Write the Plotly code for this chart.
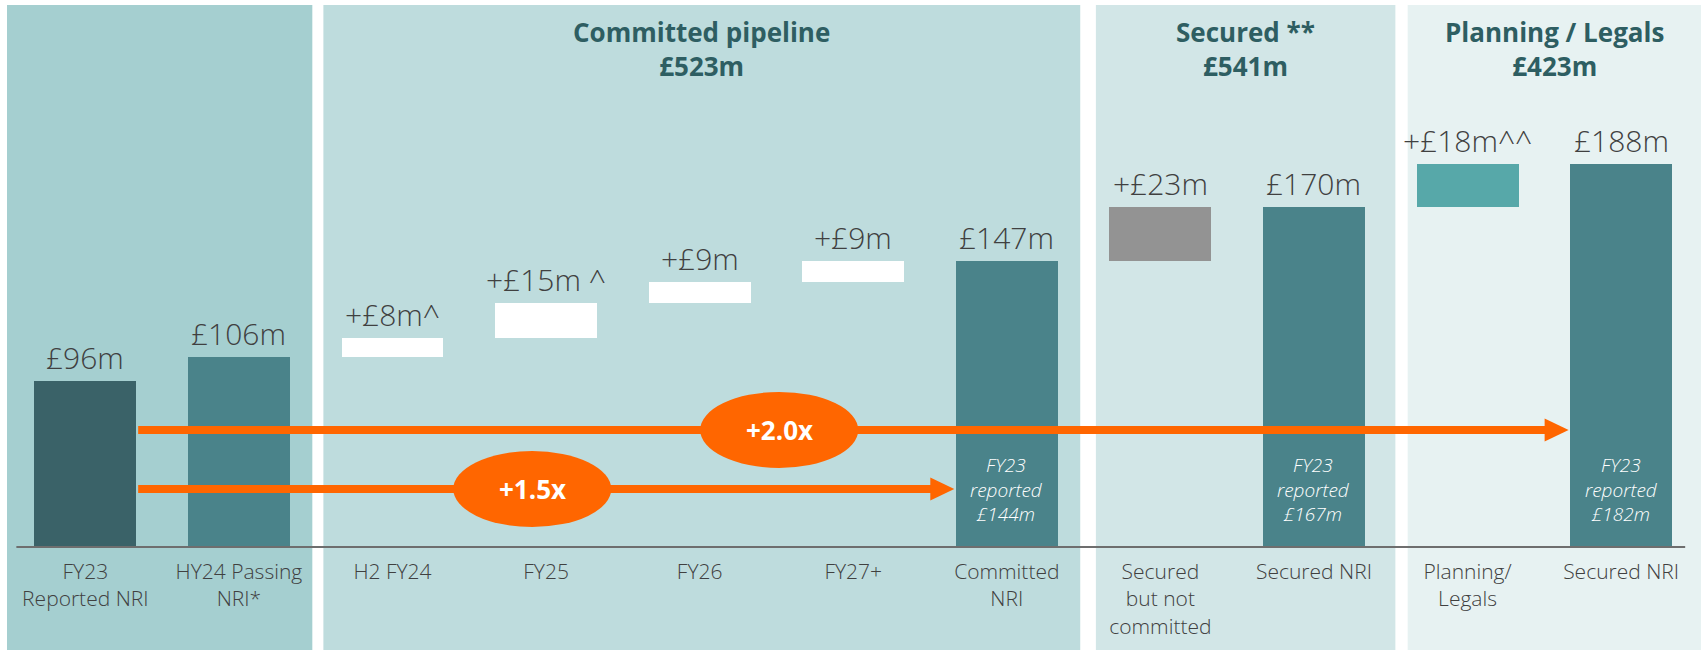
import plotly.graph_objects as go

# ---------------- data ----------------
categories = ["FY23<br>Reported NRI", "HY24 Passing<br>NRI*", "H2 FY24", "FY25", "FY26", "FY27+",
              "Committed<br>NRI", "Secured<br>but not<br>committed", "Secured NRI",
              "Planning/<br>Legals", "Secured NRI"]
amounts = [96, 106, 8, 15, 9, 9, 147, 23, 170, 18, 188]
is_total = [True, True, False, False, False, False, True, False, True, False, True]
value_labels = ["£96m", "£106m", "+£8m^", "+£15m ^", "+£9m", "+£9m", "£147m",
                "+£23m", "£170m", "+£18m^^", "£188m"]
reported_idx = [6, 8, 10]
reported_vals = ["£144m", "£167m", "£182m"]
group_titles = ["Committed pipeline<br>£523m", "Secured **<br>£541m", "Planning / Legals<br>£423m"]
multiples = ["+2.0x", "+1.5x"]

# ---------------- styles ----------------
bar_colors = ["#3A6268", "#4A838A", "#FFFFFF", "#FFFFFF", "#FFFFFF", "#FFFFFF", "#4A838A",
              "#939393", "#4A838A", "#57A8A9", "#4A838A"]
panel_colors = ["#A5CFD0", "#BEDCDD", "#D2E6E7", "#E7F2F2"]
panel_spans = [(-0.51, 1.478), (1.55, 6.478), (6.58, 8.53), (8.61, 10.52)]
ORANGE = "#FF6600"
TXT = "#404040"
TITLE = "#2E5E62"
FONT = "Open Sans"
BW = 0.664

xs = list(range(len(categories)))
bases, heights, tops = [], [], []
running = 0
for a, t in zip(amounts, is_total):
    if t:
        bases.append(0)
        heights.append(a)
        running = a
    else:
        bases.append(running)
        heights.append(a)
        running += a
    tops.append(running)

fig = go.Figure()
fig.add_trace(go.Bar(x=xs, y=heights, base=bases, width=BW,
                     marker=dict(color=bar_colors, line=dict(width=0)),
                     hoverinfo="skip", showlegend=False))

shapes = []
# background panels
for (x0, x1), c in zip(panel_spans, panel_colors):
    shapes.append(dict(type="rect", xref="x", yref="paper", x0=x0, x1=x1, y0=-0.2, y1=1.0,
                       fillcolor=c, line=dict(width=0), layer="below"))
# baseline
shapes.append(dict(type="line", xref="x", yref="paper", x0=-0.449, x1=10.417, y0=0, y1=0,
                   line=dict(color="#6E6E6E", width=2), layer="above"))

# arrows: from right edge of FY23 bar to left edge of target bars
arrow_specs = [(10, 0.216, 4.518), (6, 0.107, 2.91)]
for (target, yp, ex), label in zip(arrow_specs, multiples):
    start = 0 + BW / 2 + 0.012
    tip = target - BW / 2 - 0.01
    shapes.append(dict(type="line", xref="x", yref="paper", x0=start, x1=tip - 0.08,
                       y0=yp, y1=yp, line=dict(color=ORANGE, width=8), layer="above"))
    shapes.append(dict(type="path", xref="x", yref="paper", xsizemode="pixel", ysizemode="pixel",
                       xanchor=tip, yanchor=yp, path="M -24,-11.5 L 0,0 L -24,11.5 Z",
                       fillcolor=ORANGE, line=dict(width=0), layer="above"))
    shapes.append(dict(type="circle", xref="x", yref="paper", xsizemode="pixel", ysizemode="pixel",
                       xanchor=ex, yanchor=yp, x0=-79, x1=79, y0=-38, y1=38,
                       fillcolor=ORANGE, line=dict(width=0), layer="above"))

annotations = []
for x, top, lab in zip(xs, tops, value_labels):
    annotations.append(dict(x=x, y=top, xref="x", yref="y", text=lab, showarrow=False,
                            xanchor="center", yanchor="bottom", yshift=1,
                            font=dict(family=FONT, size=30, color=TXT, weight=300)))
for i, v in zip(reported_idx, reported_vals):
    annotations.append(dict(x=i, y=0, xref="x", yref="paper", xanchor="center", yanchor="bottom",
                            yshift=18, text=f"<i>FY23<br>reported<br>{v}</i>", showarrow=False,
                            font=dict(family=FONT, size=19, color="#FFFFFF", weight=300)))
for (x0, x1), t in zip(panel_spans[1:], group_titles):
    annotations.append(dict(x=(x0 + x1) / 2, y=1, xref="x", yref="paper", xanchor="center",
                            yanchor="top", yshift=-7, text=f"<b>{t}</b>", showarrow=False,
                            font=dict(family=FONT, size=26, color=TITLE)))
for (target, yp, ex), label in zip(arrow_specs, multiples):
    annotations.append(dict(x=ex, y=yp, xref="x", yref="paper", text=f"<b>{label}</b>",
                            xanchor="center", yanchor="middle", showarrow=False,
                            font=dict(family=FONT, size=26, color="#FFFFFF")))

fig.update_layout(
    width=1702, height=650,
    margin=dict(l=7, r=1, t=5, b=103),
    paper_bgcolor="#FFFFFF", plot_bgcolor="rgba(0,0,0,0)",
    bargap=0,
    shapes=shapes, annotations=annotations,
    xaxis=dict(range=[-0.51, 10.52], tickvals=xs, ticktext=categories, showgrid=False,
               zeroline=False, showline=False, ticks="", ticklabelstandoff=10,
               tickfont=dict(family=FONT, size=21, color=TXT, weight=300)),
    yaxis=dict(range=[25.1, 255.9], showgrid=False, zeroline=False, showticklabels=False,
               showline=False),
)
fig.write_html("out.html", config={"displayModeBar": False},
               post_script="document.body.style.margin='0';document.body.style.overflow='hidden';")
